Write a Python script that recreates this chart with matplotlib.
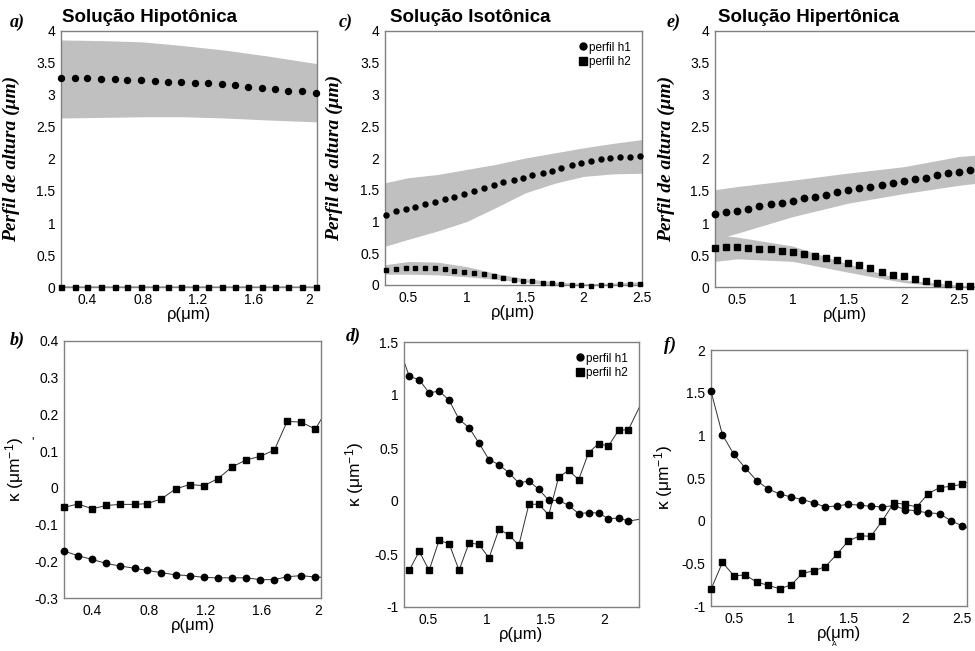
import numpy as np
import matplotlib
matplotlib.use("Agg")
import matplotlib.pyplot as plt
from matplotlib.lines import Line2D

plt.rcParams['font.family'] = ['Liberation Sans', 'DejaVu Sans']
plt.rcParams['axes.unicode_minus'] = False
plt.rcParams['mathtext.default'] = 'regular'

# ---- dados: perfis de altura (linha de cima) ----
x_a = [0.21, 0.31, 0.40, 0.50, 0.60, 0.69, 0.79, 0.89, 0.98, 1.08,
       1.18, 1.27, 1.37, 1.47, 1.56, 1.66, 1.76, 1.85, 1.95, 2.05]
h1_a = [3.26, 3.26, 3.26, 3.25, 3.25, 3.23, 3.23, 3.22, 3.21, 3.21,
        3.19, 3.18, 3.17, 3.15, 3.13, 3.11, 3.09, 3.07, 3.06, 3.03]
h2_a = [0.005, 0.005, 0.004, 0.004, 0.003, 0.003, 0.003, 0.003, 0.0, 0.0,
        0.0, 0.0, 0.0, 0.0, -0.005, -0.005, -0.005, 0.0, 0.0, 0.0]
band_x_a = [0.21, 0.5, 0.8, 1.1, 1.4, 1.7, 2.06]
band1_hi_a = [3.86, 3.85, 3.83, 3.77, 3.70, 3.61, 3.49]
band1_lo_a = [2.64, 2.65, 2.66, 2.66, 2.64, 2.61, 2.58]
band2_hi_a = [0.02, 0.02, 0.02, 0.02, 0.02, 0.02, 0.02]
band2_lo_a = [-0.02, -0.02, -0.02, -0.02, -0.02, -0.02, -0.02]

x_c = [0.31, 0.39, 0.48, 0.56, 0.64, 0.73, 0.81, 0.89, 0.98, 1.06,
       1.15, 1.23, 1.31, 1.40, 1.48, 1.56, 1.65, 1.73, 1.81, 1.90,
       1.98, 2.06, 2.15, 2.23, 2.31, 2.40, 2.48]
h1_c = [1.11, 1.16, 1.20, 1.23, 1.27, 1.31, 1.35, 1.39, 1.43, 1.48,
        1.53, 1.57, 1.62, 1.65, 1.69, 1.74, 1.77, 1.80, 1.85, 1.89,
        1.92, 1.95, 1.98, 2.00, 2.01, 2.02, 2.03]
h2_c = [0.236, 0.257, 0.267, 0.267, 0.267, 0.267, 0.246, 0.220, 0.209, 0.188,
        0.168, 0.136, 0.115, 0.084, 0.068, 0.058, 0.037, 0.031, 0.016, 0.005,
        0.0, -0.010, 0.005, 0.005, 0.010, 0.016, 0.021]
band_x_c = [0.3, 0.5, 0.75, 1.0, 1.25, 1.5, 1.75, 2.0, 2.25, 2.5]
band1_hi_c = [1.61, 1.69, 1.74, 1.82, 1.90, 2.00, 2.08, 2.16, 2.23, 2.29]
band1_lo_c = [0.61, 0.72, 0.85, 1.00, 1.22, 1.45, 1.60, 1.71, 1.75, 1.76]
band2_hi_c = [0.32, 0.37, 0.36, 0.29, 0.18, 0.10, 0.05, 0.02, 0.03, 0.05]
band2_lo_c = [0.17, 0.17, 0.16, 0.13, 0.09, 0.04, 0.00, -0.02, -0.02, -0.01]

x_e = [0.3, 0.4, 0.5, 0.6, 0.7, 0.8, 0.9, 1.0, 1.1, 1.2, 1.3, 1.4,
       1.5, 1.6, 1.7, 1.8, 1.9, 2.0, 2.1, 2.2, 2.3, 2.4, 2.5, 2.6]
h1_e = [1.14, 1.17, 1.19, 1.22, 1.26, 1.29, 1.32, 1.35, 1.39, 1.41, 1.44, 1.48,
        1.51, 1.54, 1.57, 1.60, 1.62, 1.65, 1.68, 1.71, 1.75, 1.78, 1.80, 1.83]
h2_e = [0.61, 0.62, 0.62, 0.61, 0.60, 0.59, 0.57, 0.55, 0.52, 0.49, 0.45, 0.42,
        0.37, 0.34, 0.30, 0.24, 0.19, 0.17, 0.12, 0.09, 0.06, 0.04, 0.02, 0.01]
band_x_e = [0.3, 0.5, 1.0, 1.5, 2.0, 2.5, 2.65]
band1_hi_e = [1.52, 1.57, 1.67, 1.78, 1.88, 2.04, 2.06]
band1_lo_e = [0.74, 0.84, 1.10, 1.31, 1.46, 1.59, 1.62]
band2_hi_e = [0.82, 0.78, 0.64, 0.36, 0.11, 0.03, 0.02]
band2_lo_e = [0.40, 0.44, 0.40, 0.23, 0.07, -0.02, -0.02]

# ---- dados: curvatura (linha de baixo) ----
x_b = [0.20, 0.30, 0.40, 0.50, 0.60, 0.70, 0.79, 0.89, 0.99, 1.09,
       1.19, 1.29, 1.39, 1.49, 1.59, 1.69, 1.78, 1.88, 1.98, 2.08]
k1_b = [-0.172, -0.185, -0.195, -0.206, -0.213, -0.219, -0.225, -0.231, -0.237, -0.239,
        -0.244, -0.245, -0.245, -0.245, -0.250, -0.250, -0.242, -0.239, -0.243, -0.244]
k2_b = [-0.053, -0.044, -0.057, -0.048, -0.045, -0.045, -0.043, -0.030, -0.003, 0.009,
        0.006, 0.025, 0.057, 0.076, 0.086, 0.103, 0.181, 0.179, 0.160, 0.225]

x1_d = [0.25, 0.335, 0.42, 0.505, 0.59, 0.676, 0.761, 0.846, 0.931, 1.017, 1.102, 1.187,
        1.272, 1.358, 1.443, 1.528, 1.613, 1.698, 1.784, 1.869, 1.954, 2.039, 2.125, 2.21, 2.38]
k1_d = [1.44, 1.176, 1.145, 1.019, 1.038, 0.950, 0.770, 0.692, 0.547, 0.390, 0.343, 0.267,
        0.170, 0.189, 0.110, 0.006, 0.006, -0.041, -0.119, -0.110, -0.113, -0.167, -0.160, -0.189, -0.16]
x2_d = [0.335, 0.42, 0.505, 0.59, 0.676, 0.761, 0.846, 0.931, 1.017, 1.102, 1.187,
        1.272, 1.358, 1.443, 1.528, 1.613, 1.698, 1.784, 1.869, 1.954, 2.039, 2.125, 2.21, 2.38]
k2_d = [-0.654, -0.475, -0.654, -0.371, -0.403, -0.654, -0.396, -0.409, -0.538, -0.267, -0.318,
        -0.418, -0.031, -0.031, -0.132, 0.226, 0.289, 0.201, 0.456, 0.541, 0.519, 0.667, 0.673, 1.06]

x_f = [0.3, 0.4, 0.5, 0.6, 0.7, 0.8, 0.9, 1.0, 1.1, 1.2, 1.3, 1.4,
       1.5, 1.6, 1.7, 1.8, 1.9, 2.0, 2.1, 2.2, 2.3, 2.4, 2.5, 2.6]
k1_f = [1.517, 1.006, 0.777, 0.617, 0.469, 0.372, 0.313, 0.278, 0.247, 0.208, 0.161, 0.173,
        0.192, 0.181, 0.169, 0.161, 0.177, 0.130, 0.114, 0.091, 0.083, -0.002, -0.061, -0.124]
k2_f = [-0.805, -0.489, -0.645, -0.637, -0.719, -0.758, -0.797, -0.754, -0.618, -0.587, -0.540,
        -0.396, -0.240, -0.178, -0.182, 0.001, 0.208, 0.192, 0.161, 0.317, 0.387, 0.403, 0.426, 0.48]

W, H = 975, 651
fig = plt.figure(figsize=(W / 100, H / 100), dpi=100)
GRAY = '#c0c0c0'
SPINE = '#808080'


def add_ax(x0, y0, x1, y1, xlim, ylim, xticks, yticks):
    ax = fig.add_axes([x0 / W, 1 - y1 / H, (x1 - x0) / W, (y1 - y0) / H])
    ax.set_xlim(*xlim)
    ax.set_ylim(*ylim)
    ax.set_xticks(xticks)
    ax.set_yticks(yticks)
    ax.set_xticklabels(['%g' % t for t in xticks])
    ax.set_yticklabels(['%g' % t for t in yticks])
    ax.tick_params(length=0, labelsize=10, pad=4)
    for s in ax.spines.values():
        s.set_color(SPINE)
        s.set_linewidth(1.0)
    ax.set_xlabel('ρ(μm)', fontsize=12, labelpad=0)
    return ax


def ylabel_top(ax, xpix, x0, x1):
    ax.set_ylabel('Perfil de altura (μm)', family='Liberation Serif', style='italic',
                  weight='bold', fontsize=14)
    ax.yaxis.set_label_coords((xpix - x0) / (x1 - x0), 0.5)


def ylabel_bot(ax, xpix, x0, x1):
    ax.set_ylabel('κ (μm$^{-1}$)', fontsize=12.5)
    ax.yaxis.set_label_coords((xpix - x0) / (x1 - x0), 0.5)


def curve(ax, x, y, marker, ms):
    x = np.asarray(x)
    y = np.asarray(y)
    ax.plot(x, y, color='#303030', lw=0.7, zorder=2)
    lo, hi = ax.get_xlim()
    m = (x >= lo - 1e-6) & (x <= hi + 1e-6)
    ax.plot(x[m], y[m], ls='none', marker=marker, ms=ms, color='black',
            clip_on=False, zorder=3)


def legend(ax):
    hs = [Line2D([], [], ls='none', marker='o', ms=5, color='black'),
          Line2D([], [], ls='none', marker='s', ms=5.5, color='black')]
    ax.legend(hs, ['perfil h1', 'perfil h2'], loc='upper right', frameon=False,
              fontsize=8.5, handlelength=0.6, handletextpad=0.25, labelspacing=0.2,
              borderaxespad=0.5)


top_yt = [0, 0.5, 1, 1.5, 2, 2.5, 3, 3.5, 4]

# a) hipotonica
ax = add_ax(61, 31, 317, 287, (0.21, 2.06), (0, 4), [0.4, 0.8, 1.2, 1.6, 2], top_yt)
ax.fill_between(band_x_a, band1_lo_a, band1_hi_a, color=GRAY, lw=0, zorder=1)
ax.fill_between(band_x_a, band2_lo_a, band2_hi_a, color=GRAY, lw=0, zorder=1)
ax.plot(x_a, h1_a, ls='none', marker='o', ms=4.3, color='black', clip_on=False, zorder=3)
ax.plot(x_a, h2_a, ls='none', marker='s', ms=3.6, color='black', clip_on=False, zorder=3)
ylabel_top(ax, 20, 61, 317)

# c) isotonica
ax = add_ax(385, 31, 642, 285, (0.30, 2.50), (0, 4), [0.5, 1, 1.5, 2, 2.5], top_yt)
ax.fill_between(band_x_c, band1_lo_c, band1_hi_c, color=GRAY, lw=0, zorder=1)
ax.fill_between(band_x_c, band2_lo_c, band2_hi_c, color=GRAY, lw=0, zorder=1)
ax.plot(x_c, h1_c, ls='none', marker='o', ms=3.6, color='black', clip_on=False, zorder=3)
ax.plot(x_c, h2_c, ls='none', marker='s', ms=3.3, color='black', clip_on=False, zorder=3)
ylabel_top(ax, 343, 385, 642)
legend(ax)

# e) hipertonica
ax = add_ax(715, 31, 976, 287, (0.3, 2.65), (0, 4), [0.5, 1, 1.5, 2, 2.5], top_yt)
ax.fill_between(band_x_e, band1_lo_e, band1_hi_e, color=GRAY, lw=0, zorder=1)
ax.fill_between(band_x_e, band2_lo_e, band2_hi_e, color=GRAY, lw=0, zorder=1)
ax.plot(x_e, h1_e, ls='none', marker='o', ms=4.6, color='black', clip_on=False, zorder=3)
ax.plot(x_e, h2_e, ls='none', marker='s', ms=4.3, color='black', clip_on=False, zorder=3)
ylabel_top(ax, 675, 715, 976)

# b)
ax = add_ax(64, 341, 321, 598, (0.2, 2.02), (-0.3, 0.4), [0.4, 0.8, 1.2, 1.6, 2],
            [-0.3, -0.2, -0.1, 0, 0.1, 0.2, 0.3, 0.4])
curve(ax, x_b, k2_b, 's', 4.6)
curve(ax, x_b, k1_b, 'o', 4.6)
ylabel_bot(ax, 26, 64, 321)

# d)
ax = add_ax(404, 342, 639, 607, (0.29, 2.30), (-1, 1.5), [0.5, 1, 1.5, 2],
            [-1, -0.5, 0, 0.5, 1, 1.5])
curve(ax, x1_d, k1_d, 'o', 4.6)
curve(ax, x2_d, k2_d, 's', 4.6)
ylabel_bot(ax, 366, 404, 639)
legend(ax)

# f)
ax = add_ax(711, 350, 967, 606, (0.3, 2.54), (-1, 2), [0.5, 1, 1.5, 2, 2.5],
            [-1, -0.5, 0, 0.5, 1, 1.5, 2])
curve(ax, x_f, k1_f, 'o', 4.6)
curve(ax, x_f, k2_f, 's', 4.6)
ylabel_bot(ax, 675, 711, 967)

# titulos e letras dos paineis
for px, txt in [(62, 'Solução Hipotônica'), (390, 'Solução Isotônica'), (718, 'Solução Hipertônica')]:
    fig.text(px / W, 1 - 17 / H, txt, fontsize=13.5, weight='bold', ha='left', va='center')

for px, py, txt in [(10, 22, 'a)'), (339, 22, 'c)'), (667, 22, 'e)'),
                    (10, 340, 'b)'), (346, 336, 'd)'), (664, 345, 'f)')]:
    fig.text(px / W, 1 - py / H, txt, family='Liberation Serif', style='italic',
             weight='bold', fontsize=13, ha='left', va='center')

# pequenas marcas soltas da figura original
fig.text(33 / W, 1 - 442 / H, "'", fontsize=9, ha='center', va='center')
fig.text(834 / W, 1 - 645 / H, "A", fontsize=5, ha='center', va='center')

fig.savefig('out.png', dpi=100, facecolor='white')
